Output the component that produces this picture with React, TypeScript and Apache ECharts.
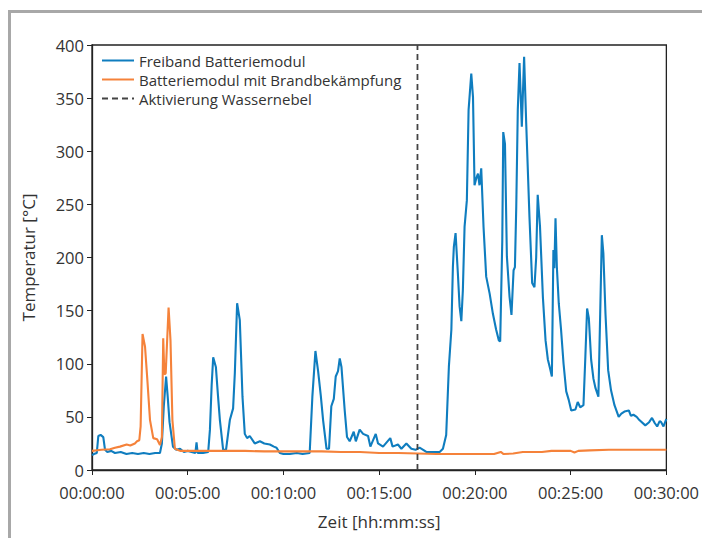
import React, { useEffect, useRef } from "react";
import * as echarts from "echarts";

// time in minutes, temperature in °C
const blueT = [0.0,0.1,0.25,0.33,0.45,0.59,0.68,0.8,1.0,1.2,1.5,1.8,2.1,2.4,2.7,3.0,3.3,3.55,3.65,3.75,3.87,3.95,4.05,4.23,4.4,4.6,4.8,5.0,5.2,5.4,5.46,5.52,5.8,6.07,6.16,6.25,6.33,6.47,6.58,6.68,6.85,7.0,7.2,7.37,7.46,7.58,7.72,7.8,7.86,7.98,8.1,8.24,8.5,8.77,9.0,9.29,9.5,9.64,9.81,10.0,10.33,10.7,11.0,11.37,11.51,11.67,11.81,11.95,12.07,12.25,12.38,12.5,12.63,12.73,12.85,12.94,13.03,13.2,13.32,13.46,13.67,13.78,13.98,14.16,14.42,14.54,14.82,14.94,15.2,15.58,15.7,15.98,16.16,16.42,16.68,16.9,17.11,17.3,17.46,17.8,18.16,18.33,18.5,18.64,18.77,18.85,18.9,18.99,19.11,19.2,19.29,19.37,19.46,19.58,19.67,19.81,19.9,19.98,20.08,20.16,20.24,20.33,20.45,20.59,20.77,20.94,21.11,21.25,21.32,21.43,21.48,21.57,21.67,21.81,21.91,22.02,22.09,22.16,22.24,22.33,22.45,22.57,22.68,22.85,22.99,23.11,23.2,23.28,23.4,23.55,23.69,23.81,23.92,24.02,24.1,24.15,24.21,24.28,24.38,24.5,24.63,24.77,24.9,25.03,25.25,25.37,25.5,25.67,25.77,25.86,25.95,26.07,26.19,26.3,26.45,26.54,26.63,26.71,26.82,26.96,27.11,27.29,27.51,27.65,27.81,28.04,28.15,28.28,28.45,28.59,28.9,29.1,29.25,29.4,29.52,29.65,29.73,29.85,30.0];
const blueV = [14,15,16,32,33,31,19,17,18,16,17,15,16,15,16,15,16,16,25,60,88,70,45,22,19,20,17,18,17,16,26,16,16,17,38,80,106,97,70,47,19,19,47,58,91,157,141,100,69,34,30,32,25,27,25,24,22,21,16,15,15,16,15,16,69,112,93,70,47,20,20,60,67,88,93,105,97,56,31,27,36,27,38,34,32,22,34,25,22,30,22,24,20,25,20,19,21,19,17,17,17,20,33,97,132,191,210,223,185,154,140,169,229,254,339,373,351,268,275,279,268,284,229,182,166,147,132,122,121,216,318,307,201,163,146,188,191,248,339,383,323,389,326,238,176,172,200,259,229,163,122,104,96,88,207,190,237,191,157,132,100,74,66,56,57,64,59,61,107,152,143,104,86,77,69,144,221,204,147,94,75,61,50,53,55,56,51,52,50,47,42,45,49,44,41,46,45,41,48];

const orangeT = [0,0.5,0.94,1.2,1.46,1.81,2.0,2.24,2.35,2.47,2.54,2.64,2.77,2.89,3.03,3.2,3.4,3.55,3.65,3.72,3.78,3.85,4.0,4.1,4.2,4.33,4.6,5,6,7,8,9,10,11,12,13,14,15,16,17,18,19,20,21,21.35,21.5,22,22.5,23,23.5,24,25,25.2,25.4,26,27,28,29,30];
const orangeV = [18,19,19.5,21,22,24,23,25,27,28,41,128,116,85,47,30,29,23.5,31,124,90,91,153,122,47,20,18,18,18,18,18,17.5,17.5,17.5,17.5,17,17,16,16,15.5,15,15,15,15,17,15,15.5,17,17,17,18,18,16.5,18,18.5,19,19,19,19];

const activationMin = 17;
const seriesNames = ["Freiband Batteriemodul", "Batteriemodul mit Brandbekämpfung", "Aktivierung Wassernebel"];
const yTitle = "Temperatur [°C]";
const xTitle = "Zeit [hh:mm:ss]";

const pad = (n: number) => String(n).padStart(2, "0");
const fmt = (m: number) => {
  const s = Math.round(m * 60);
  return `${pad(Math.floor(s / 3600))}:${pad(Math.floor((s % 3600) / 60))}:${pad(s % 60)}`;
};

export default function App() {
  const ref = useRef<HTMLDivElement>(null);
  useEffect(() => {
    if (!ref.current) return;
    const chart = echarts.init(ref.current, null, { renderer: "svg" });
    const font = "'Open Sans', 'Noto Sans', sans-serif";
    chart.setOption({
      animation: false,
      textStyle: { fontFamily: font },
      graphic: [
        {
          type: "rect",
          shape: { x: 9.5, y: 11.5, width: 760, height: 600 },
          style: { fill: "none", stroke: "#a8a8a8", lineWidth: 3 },
          silent: true,
        },
      ],
      grid: {
        left: 92,
        right: 35,
        top: 45,
        bottom: 68,
        show: true,
        borderColor: "#222",
        borderWidth: 1.3,
        backgroundColor: "transparent",
      },
      legend: {
        orient: "vertical",
        left: 96,
        top: 48,
        itemWidth: 32,
        itemHeight: 10,
        itemGap: 4,
        itemStyle: { opacity: 0 },
        textStyle: { fontFamily: font, fontSize: 15, color: "#333" },
        data: seriesNames,
      },
      xAxis: {
        type: "value",
        min: 0,
        max: 30,
        interval: 5,
        name: xTitle,
        nameLocation: "middle",
        nameGap: 43,
        nameTextStyle: { fontFamily: font, fontSize: 17, color: "#333" },
        axisLine: { show: true, onZero: false, lineStyle: { color: "#222", width: 1.3 } },
        axisTick: { show: true, length: 5, lineStyle: { color: "#222" } },
        axisLabel: { formatter: (v: number) => fmt(v), fontSize: 16.5, lineHeight: 17, color: "#333", margin: 14 },
        splitLine: { show: false },
      },
      yAxis: {
        type: "value",
        min: 0,
        max: 400,
        interval: 50,
        name: yTitle,
        nameLocation: "middle",
        nameGap: 55,
        nameRotate: 90,
        nameTextStyle: { fontFamily: font, fontSize: 17, color: "#333" },
        axisLine: { show: true, lineStyle: { color: "#222", width: 1.3 } },
        axisTick: { show: true, length: 5, lineStyle: { color: "#222" } },
        axisLabel: { fontSize: 16.5, lineHeight: 17, color: "#333", margin: 8 },
        splitLine: { show: false },
      },
      series: [
        {
          name: seriesNames[0],
          type: "line",
          data: blueT.map((t, i) => [t, blueV[i]]),
          symbol: "none",
          lineStyle: { color: "#0f7dbf", width: 2.1 },
          itemStyle: { color: "#0f7dbf" },
          z: 3,
        },
        {
          name: seriesNames[1],
          type: "line",
          data: orangeT.map((t, i) => [t, orangeV[i]]),
          symbol: "none",
          lineStyle: { color: "#f5823a", width: 2.1 },
          itemStyle: { color: "#f5823a" },
          z: 4,
        },
        {
          name: seriesNames[2],
          type: "line",
          data: [[activationMin, 0], [activationMin, 400]],
          symbol: "none",
          lineStyle: { color: "#444", width: 1.8, type: [6, 4] },
          itemStyle: { color: "#444" },
          z: 5,
        },
      ],
    });
    return () => chart.dispose();
  }, []);
  return <div ref={ref} style={{ position: "absolute", left: 0, top: 0, width: 702, height: 538 }} />;
}
